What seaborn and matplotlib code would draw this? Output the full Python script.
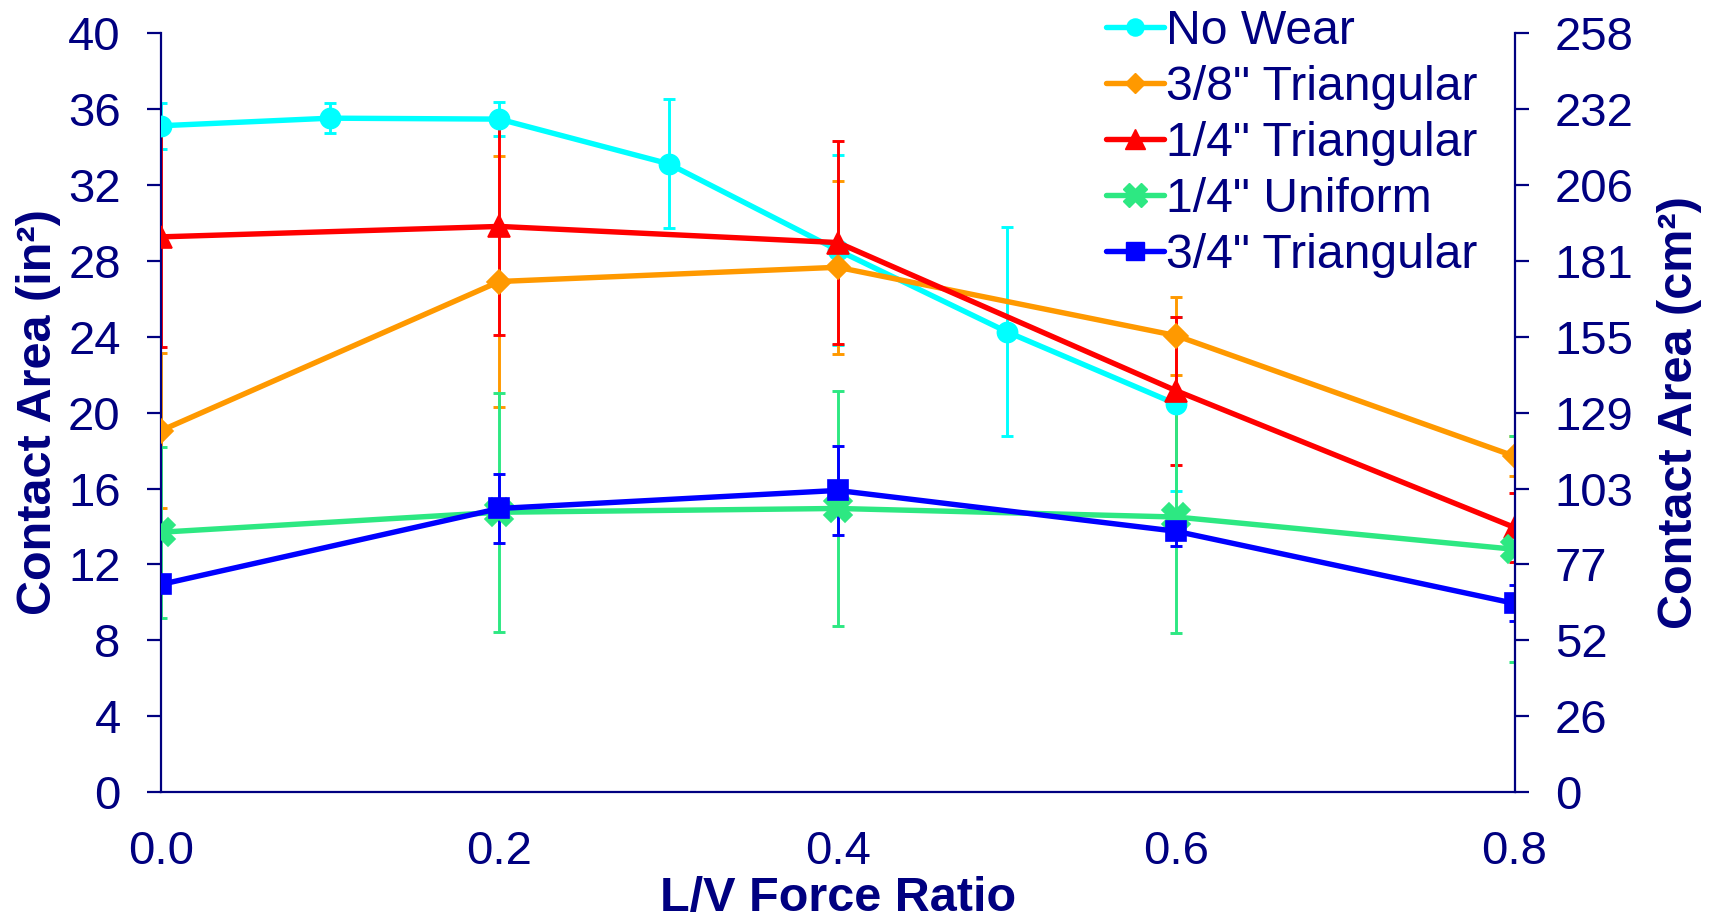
import numpy as np
import pandas as pd
import matplotlib
matplotlib.use("Agg")
import matplotlib.pyplot as plt
import seaborn as sns

# ---------------- data ----------------
series_names = ['No Wear', '3/8" Triangular', '1/4" Triangular', '1/4" Uniform', '3/4" Triangular']
x_no_wear = [0.0, 0.1, 0.2, 0.3, 0.4, 0.5, 0.6]
y_no_wear = [35.1, 35.5, 35.45, 33.1, 28.55, 24.25, 20.45]
e_no_wear = [1.2, 0.8, 0.9, 3.4, 5.0, 5.5, 4.6]
x_ratio = [0.0, 0.2, 0.4, 0.6, 0.8]
y_38_tri = [19.05, 26.9, 27.65, 24.05, 17.7]
e_38_tri = [4.1, 6.6, 4.55, 2.05, 1.05]
y_14_tri = [29.25, 29.8, 28.95, 21.15, 13.95]
e_14_tri = [5.8, 5.7, 5.35, 3.9, 1.8]
y_14_uni = [13.7, 14.75, 14.95, 14.5, 12.8]
e_14_uni = [4.5, 6.3, 6.2, 6.1, 5.95]
y_34_tri = [10.95, 14.95, 15.9, 13.75, 9.95]
e_34_tri = [0.3, 1.8, 2.35, 0.8, 0.95]

x_ticks = [0.0, 0.2, 0.4, 0.6, 0.8]
x_tick_labels = ['0.0', '0.2', '0.4', '0.6', '0.8']
y_ticks = [0, 4, 8, 12, 16, 20, 24, 28, 32, 36, 40]
y_right_labels = ['0', '26', '52', '77', '103', '129', '155', '181', '206', '232', '258']

colors = {'No Wear': '#00FFFF', '3/8" Triangular': '#FF9900', '1/4" Triangular': '#FF0000',
          '1/4" Uniform': '#2DE882', '3/4" Triangular': '#0000FF'}
markers = {'No Wear': 'o', '3/8" Triangular': 'D', '1/4" Triangular': '^',
           '1/4" Uniform': 'X', '3/4" Triangular': 's'}
marker_sizes = {'No Wear': 14.5, '3/8" Triangular': 12.5, '1/4" Triangular': 16.5,
                '1/4" Uniform': 20, '3/4" Triangular': 15}
NAVY = '#000080'

series_x = [x_no_wear, x_ratio, x_ratio, x_ratio, x_ratio]
series_y = [y_no_wear, y_38_tri, y_14_tri, y_14_uni, y_34_tri]
series_e = [e_no_wear, e_38_tri, e_14_tri, e_14_uni, e_34_tri]

rows = []
for name, xs, ys, es in zip(series_names, series_x, series_y, series_e):
    for xv, yv, ev in zip(xs, ys, es):
        rows.append({'ratio': xv, 'area': yv, 'err': ev, 'series': name})
df = pd.DataFrame(rows)

# ---------------- style ----------------
sns.set_style("white")
plt.rcParams['font.family'] = ['Liberation Sans', 'DejaVu Sans']

fig = plt.figure(figsize=(17.09, 9.22), dpi=100)
W, H = 1709, 922
left, right, top, bottom = 161, 1514.5, 32.7, 792.4
ax = fig.add_axes([left / W, 1 - bottom / H, (right - left) / W, (bottom - top) / H])

# error bars first
for name in series_names:
    d = df[df['series'] == name]
    ax.errorbar(d['ratio'], d['area'], yerr=d['err'], fmt='none', ecolor=colors[name],
                elinewidth=2.1, capsize=4.5, capthick=2.1, zorder=2)

sns.lineplot(data=df, x='ratio', y='area', hue='series', style='series',
             hue_order=series_names, style_order=series_names,
             palette=colors, markers=markers, dashes=False, ax=ax,
             linewidth=3.9, markersize=14, markeredgewidth=0, zorder=3, sort=False)

# per-series marker sizes (match by colour)
col2name = {matplotlib.colors.to_hex(c).lower(): n for n, c in colors.items()}
for ln in ax.lines:
    key = matplotlib.colors.to_hex(ln.get_color()).lower()
    if key in col2name and ln.get_marker() not in (None, 'None', ''):
        ln.set_markersize(marker_sizes[col2name[key]])
        ln.set_markeredgecolor(ln.get_color())
        ln.set_markeredgewidth(1.2)

ax.set_xlim(0, 0.8)
ax.set_ylim(0, 40)
ax.set_xticks(x_ticks)
ax.set_xticklabels(x_tick_labels)
ax.set_yticks(y_ticks)
ax.set_yticklabels([str(v) for v in y_ticks])

for s in ['top', 'right']:
    ax.spines[s].set_visible(False)
for s in ['left', 'bottom']:
    ax.spines[s].set_color(NAVY)
    ax.spines[s].set_linewidth(1.6)
ax.tick_params(axis='both', colors=NAVY, labelcolor=NAVY, labelsize=34,
               length=10, width=1.6, direction='out')
ax.tick_params(axis='y', pad=19)
ax.tick_params(axis='x', pad=17)
ax.grid(False)

ax.set_xlabel('L/V Force Ratio', fontsize=35, fontweight='bold', color=NAVY)
ax.set_ylabel('Contact Area (in²)', fontsize=35, fontweight='bold', color=NAVY)
ax.xaxis.set_label_coords(0.5, -0.110)
ax.yaxis.set_label_coords(-0.074, 0.5)

ax2 = ax.twinx()
ax2.set_ylim(0, 40)
ax2.set_yticks(y_ticks)
ax2.set_yticklabels(y_right_labels)
for s in ['top', 'left', 'bottom']:
    ax2.spines[s].set_visible(False)
ax2.spines['right'].set_color(NAVY)
ax2.spines['right'].set_linewidth(1.6)
ax2.tick_params(axis='y', colors=NAVY, labelcolor=NAVY, labelsize=34,
                length=10, width=1.6, direction='out', pad=19)
ax2.set_ylabel('Contact Area (cm²)', fontsize=35, fontweight='bold', color=NAVY,
               rotation=90)
ax2.yaxis.set_label_coords(1.105, 0.5)
ax2.grid(False)

# legend
handles, labels = ax.get_legend_handles_labels()
leg0 = ax.get_legend()
if leg0 is not None:
    leg0.remove()
for h, lab in zip(handles, labels):
    h.set_linewidth(3.9)
    if lab in marker_sizes:
        h.set_markersize(marker_sizes[lab] * 0.85)
        h.set_markeredgecolor(colors[lab])
        h.set_markeredgewidth(1.0)
leg = fig.legend(handles, labels, loc='upper left', bbox_to_anchor=(1106 / W, 0.99),
                 frameon=False, fontsize=34.7, handlelength=1.2, handletextpad=0.05,
                 labelspacing=0.225, borderpad=0, borderaxespad=0)
for t in leg.get_texts():
    t.set_color(NAVY)

fig.savefig('out.png', dpi=100)
